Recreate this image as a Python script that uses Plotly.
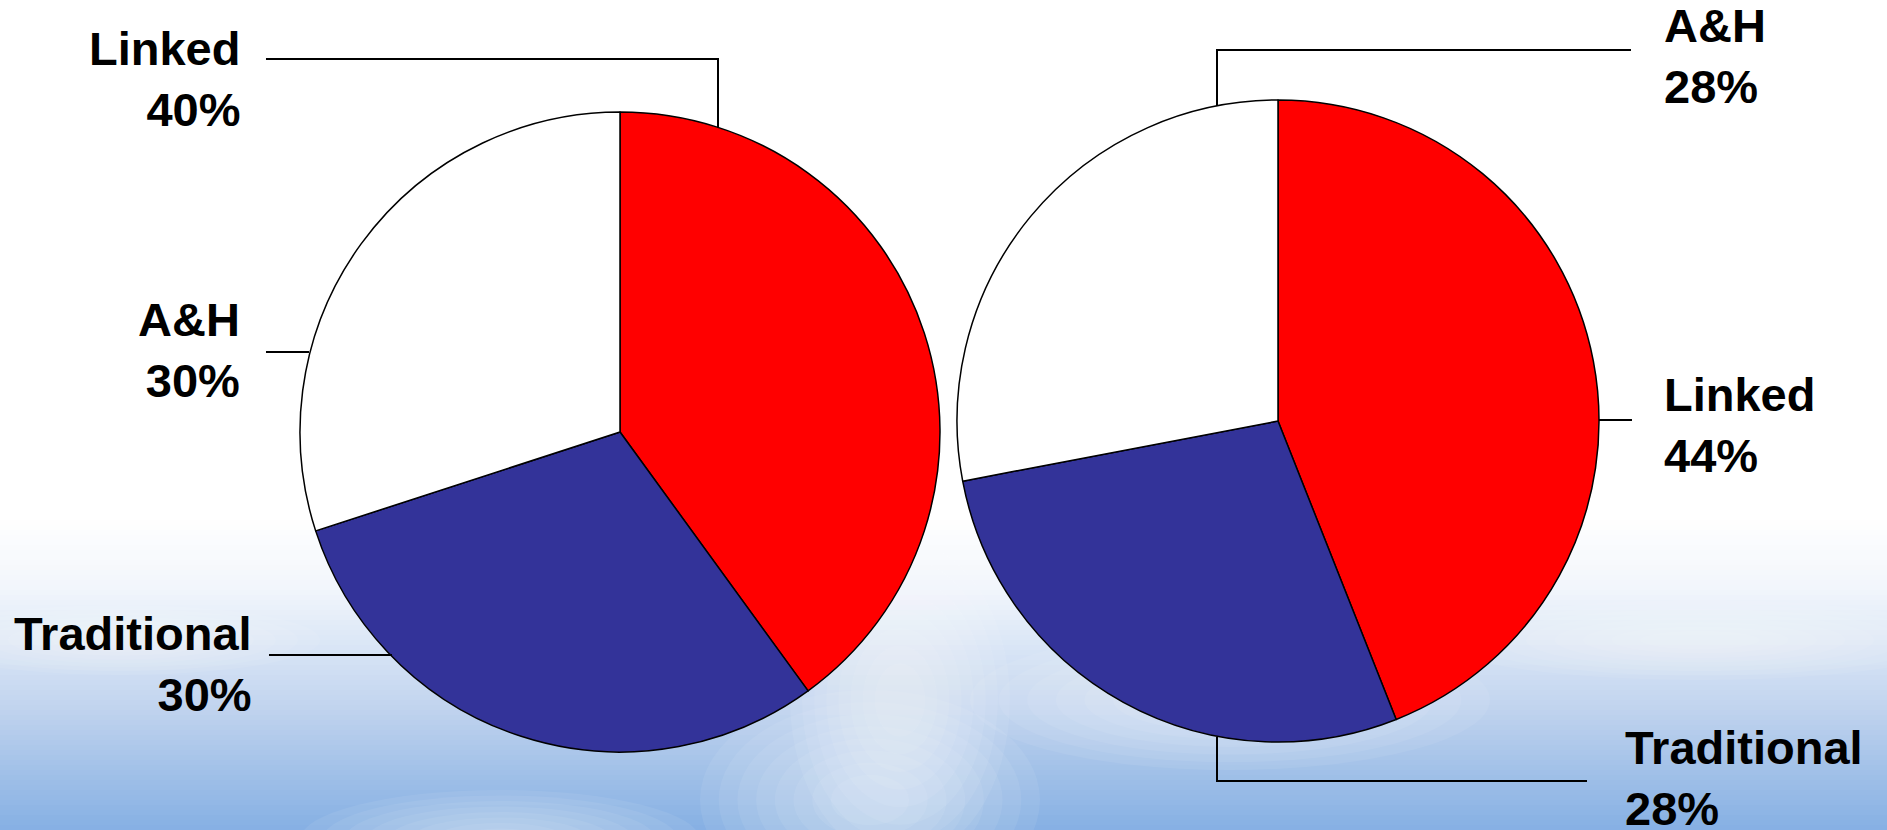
import numpy as np
import plotly.graph_objects as go

W, H = 1887, 830

# ---- data ----
categories = ["Linked", "Traditional", "A&H"]
left_values = [40, 30, 30]
right_values = [44, 28, 28]
slice_colors = ["#FF0000", "#333399", "#FFFFFF"]

def px(x):
    return x / W

def py(y):
    return 1 - y / H

fig = go.Figure()

# left pie: centre (620, 432), r 320
fig.add_trace(go.Pie(
    labels=categories, values=left_values, sort=False, direction="clockwise",
    rotation=0, textinfo="none", hoverinfo="label+percent",
    marker=dict(colors=slice_colors, line=dict(color="black", width=1.5)),
    domain=dict(x=[px(300), px(940)], y=[py(752), py(112)]),
    showlegend=False,
))
# right pie: centre (1278, 421), r 321
fig.add_trace(go.Pie(
    labels=categories, values=right_values, sort=False, direction="clockwise",
    rotation=0, textinfo="none", hoverinfo="label+percent",
    marker=dict(colors=slice_colors, line=dict(color="black", width=1.5)),
    domain=dict(x=[px(957), px(1599)], y=[py(742), py(100)]),
    showlegend=False,
))

shapes = []
# background sky gradient
stops_y = [520, 590, 650, 715, 775, 830]
stops_c = [(255, 255, 255), (242, 246, 252), (216, 229, 246), (190, 210, 238), (160, 192, 232), (134, 176, 228)]
ys = np.arange(520, 831, 5)
for y0 in ys:
    yc = y0 + 2.5
    c = [int(np.interp(yc, stops_y, [s[i] for s in stops_c])) for i in range(3)]
    shapes.append(dict(type="rect", xref="paper", yref="paper", layer="below",
                       x0=0, x1=1, y0=py(min(y0 + 5.5, 830)), y1=py(y0),
                       fillcolor=f"rgb({c[0]},{c[1]},{c[2]})", line=dict(width=0)))
# soft clouds (stacked translucent ellipses)
clouds = [(870, 800, 170, 110), (900, 700, 110, 160), (500, 840, 200, 50),
          (1230, 700, 260, 70), (1700, 640, 260, 40), (120, 640, 200, 35)]
for cx, cy, rx, ry in clouds:
    for k in range(8):
        f = 1 - k * 0.11
        shapes.append(dict(type="circle", xref="paper", yref="paper", layer="below",
                           x0=px(cx - rx * f), x1=px(cx + rx * f),
                           y0=py(cy + ry * f), y1=py(cy - ry * f),
                           fillcolor="white", opacity=0.07, line=dict(width=0)))

# leader lines
leaders = [
    [(266, 59), (718, 59), (718, 128)],
    [(266, 352), (309, 352)],
    [(269, 655), (392, 655)],
    [(1217, 106), (1217, 50), (1631, 50)],
    [(1599, 420), (1632, 420)],
    [(1217, 737), (1217, 781), (1587, 781)],
]
for pts in leaders:
    path = "M " + " L ".join(f"{px(x):.5f},{py(y):.5f}" for x, y in pts)
    shapes.append(dict(type="path", xref="paper", yref="paper", path=path,
                       line=dict(color="black", width=2), layer="above"))

# labels
def pct_label(name, v):
    return f"<b>{name}<br>{v}%</b>"

label_pos = [
    # (category index, values, x, y-centre, anchor)
    (0, left_values, 242, 79, "right"),
    (2, left_values, 242, 350, "right"),
    (1, left_values, 254, 664, "right"),
    (2, right_values, 1662, 56, "left"),
    (0, right_values, 1662, 425, "left"),
    (1, right_values, 1623, 778, "left"),
]
annotations = []
for idx, vals, x, y, anc in label_pos:
    annotations.append(dict(
        text=pct_label(categories[idx], vals[idx]), xref="paper", yref="paper",
        x=px(x), y=py(y), xanchor=anc, yanchor="middle", align=anc,
        showarrow=False, font=dict(family="Liberation Sans, Arial", size=47, color="black"),
    ))

fig.update_layout(
    width=W, height=H, autosize=False,
    margin=dict(l=0, r=0, t=0, b=0),
    paper_bgcolor="white", plot_bgcolor="white",
    shapes=shapes, annotations=annotations,
)

fig.write_html("out.html", config={"displayModeBar": False})
